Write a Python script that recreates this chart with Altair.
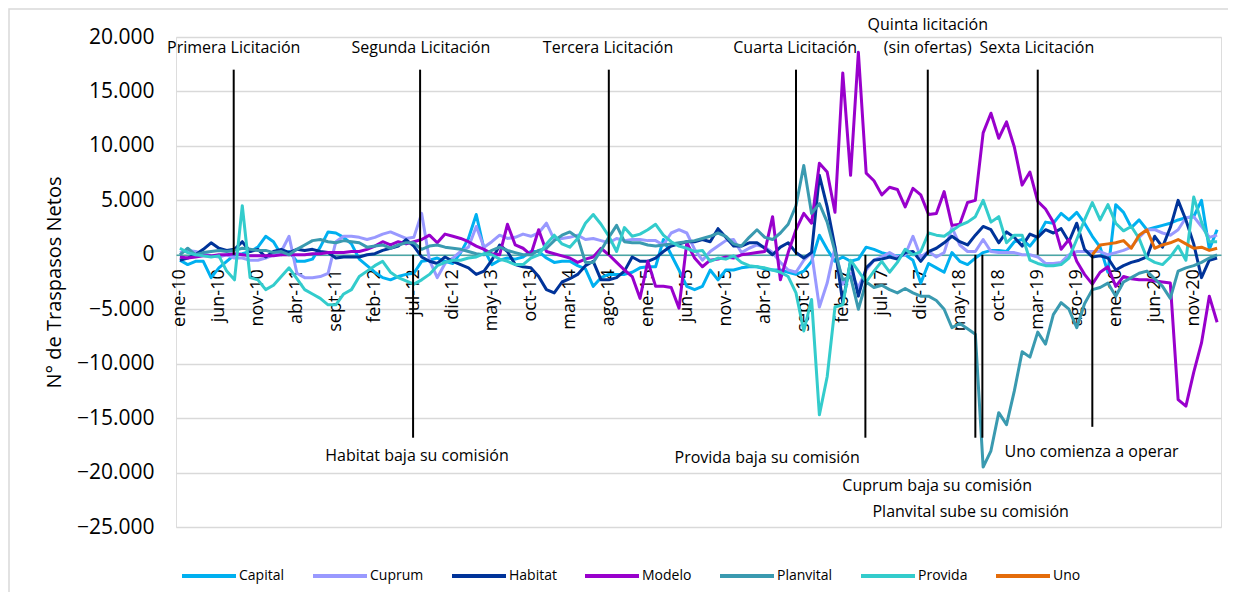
import altair as alt
import pandas as pd

# ---------------- data ----------------
series_names = ["Capital", "Cuprum", "Habitat", "Modelo", "Planvital", "Provida", "Uno"]
series_colors = ["#00B0F0", "#9999FF", "#003399", "#9900CC", "#3A9AB0", "#33CCCC", "#E46C0A"]

tick_idx = list(range(0, 134, 5))
tick_labels = ["ene-10", "jun-10", "nov-10", "abr-11", "sept-11", "feb-12", "jul-12", "dic-12",
               "may-13", "oct-13", "mar-14", "ago-14", "ene-15", "jun-15", "nov-15", "abr-16",
               "sept-16", "feb-17", "jul-17", "dic-17", "may-18", "oct-18", "mar-19", "ago-19",
               "ene-20", "jun-20", "nov-20"]

capital = [-500, -900, -600, -600, -2100, -1200, -600, 0, 100, 300,
           700, 1700, 1200, 0, 300, -600, -600, -400, 700, 2100,
           2000, 1600, 1000, -400, -1000, -1600, -2100, -2300, -2000, -1800,
           -1700, -600, -500, -300, -600, -800, 200, 1500, 3700, 500,
           -900, -500, -300, -400, -200, 300, 300, -300, -700, -600,
           -600, -1000, -1300, -2900, -2100, -1800, -1800, -1800, -1600, -1200,
           -1100, -1100, 1400, 0, -1400, -2900, -3200, -2900, -1400, -2300,
           -1400, -1400, -1200, -1100, -1100, -1300, -1400, -1400, -1600, -1800,
           -1500, -600, 1800, 500, -600, -200, -600, -400, 700, 500,
           200, 0, -100, 0, -500, -2600, -800, -1200, -1600, 200,
           -600, -900, -300, 200, 400, 400, 300, 1200, 1400, 800,
           1700, 3000, 2900, 3800, 3200, 3900, 2900, 1700, 700, -1600,
           4600, 3900, 2500, 3200, 2300, 2500, 2700, 2900, 3200, 3400,
           3500, 5000, 500, 2300]

cuprum = [200, 400, 300, 100, -100, -200, 0, -300, -300, -500,
          -500, -300, 0, 300, 1700, -1700, -2100, -2100, -2000, -1700,
          1200, 1700, 1700, 1600, 1400, 1600, 1900, 2100, 1800, 1500,
          1600, 3800, -500, -2100, -800, -300, 300, 700, 2600, 700,
          1200, 1800, 1500, 1600, 1900, 1700, 2000, 2900, 1400, 1500,
          1600, 1800, 1400, 1500, 1300, 1100, 1500, 1300, 1400, 1400,
          1300, 1300, 900, 2000, 2300, 2000, 500, -500, 300, 800,
          1300, 1400, 200, 600, 900, 700, 200, -700, -1400, -1600,
          -500, 200, -4800, -2600, 700, -2700, -1700, -3000, -1400, -500,
          -200, 200, -200, 0, 1700, -200, 300, -200, 200, 2500,
          900, 300, 300, 1400, 300, 200, 200, 200, 0, 0,
          -200, -800, -800, -700, 0, 300, 300, 300, 300, 0,
          200, 400, 700, 1600, 2300, 2300, 2000, 1800, 2300, 3400,
          3500, 2600, 1600, 1800]

habitat = [-500, -300, 0, 500, 1100, 600, 400, 500, 1200, 300,
           500, -200, 300, 500, 200, 500, 400, 500, 300, 200,
           -300, -200, -200, -200, 0, 100, 400, 600, 800, 1400,
           800, -200, -600, -800, -200, -600, -900, -1200, -1800, -1500,
           -500, 900, 300, -900, -1100, -1200, -2000, -3200, -3500, -2500,
           -2200, -1800, -1000, -600, -2300, -2300, -2100, -1500, -200, -600,
           -600, -300, 300, 800, 1000, 1200, 1200, 1400, 1200, 2400,
           1600, 800, 800, 1100, 1100, 600, 0, 700, 1100, 200,
           -300, 200, 7300, 4400, 700, -4400, -600, -3800, -1200, -500,
           -400, -200, -400, 200, 300, -600, 300, 600, 1100, 1700,
           1200, 900, 1800, 2600, 2300, 1100, 2100, 1600, 800, 1900,
           1600, 2300, 2000, 2400, 1200, 2900, 500, -200, -100, -300,
           -1400, -1000, -700, -500, -200, 1700, 700, 2500, 5000, 3200,
           1000, -2100, -500, -300]

modelo = [-200, -300, -200, -100, -100, 0, 0, 100, 0, -100,
          -100, -100, -100, 0, 0, 0, 0, 100, 100, 200,
          200, 200, 300, 300, 500, 800, 1200, 900, 1200, 1000,
          1200, 1400, 1800, 1100, 1900, 1700, 1500, 1200, 800, 500,
          100, 0, 2800, 900, 600, 0, 2300, 300, 100, -100,
          -300, -700, -400, -200, 600, 0, -700, -1400, -2000, -4000,
          -600, -2900, -2900, -3000, -4900, 1100, -300, -1100, -500, -400,
          -200, -300, 0, 100, 200, 300, 3500, -2300, 200, 2300,
          3800, 2900, 8400, 7600, 3900, 16700, 7300, 18600, 7500, 6800,
          5500, 6200, 6000, 4400, 6100, 5500, 3700, 3800, 5800, 2700,
          2800, 4800, 5000, 11200, 13000, 10700, 12200, 9900, 6400, 7600,
          4900, 4200, 3000, 500, 1400, -600, -1800, -2700, -1600, -1100,
          -2900, -2000, -2200, -2300, -2300, -2400, -2500, -2600, -13300, -13900,
          -10800, -8100, -3800, -6200]

planvital = [0, 600, 0, 200, 300, 400, 300, 400, 600, 500,
             400, 400, 200, 300, 0, 500, 900, 1300, 1400, 1200,
             1100, 1300, 1200, 1100, 700, 800, 900, 600, 900, 1100,
             1100, 500, 800, 900, 700, 600, 500, 300, 100, 0,
             400, 700, 400, 200, 0, 0, 400, 600, 1300, 1800,
             2100, 1600, -700, -700, 400, 1600, 2700, 1200, 1100, 1100,
             900, 800, 900, 1000, 1100, 1200, 1300, 1500, 1700, 2000,
             1700, 1000, 800, 1600, 2300, 1600, 1400, 2000, 2800, 4500,
             8200, 3800, 4700, 3000, 300, -2300, -2000, -5000, -2500, -3000,
             -2800, -3200, -3500, -3100, -3500, -3800, -3800, -4200, -5000, -6700,
             -6300, -6800, -7300, -19500, -18000, -14500, -15600, -12500, -8900, -9400,
             -7100, -8200, -5500, -4400, -5000, -6700, -4500, -3200, -3000, -2600,
             -3800, -2500, -2100, -1700, -1500, -2200, -2900, -4000, -1500, -1200,
             -1000, -700, -300, 0]

provida = [600, 200, 0, -100, -200, -100, -1500, -2300, 4500, -2100,
           -2300, -3200, -2800, -2000, -1200, -2200, -3200, -3600, -4000, -4600,
           -4600, -3600, -3200, -2000, -1500, -1000, -600, -1600, -2100, -2400,
           -2700, -2300, -1800, -1000, -700, -500, -500, -300, -200, 100,
           0, -400, -600, -900, -900, -300, 0, 1000, 1800, 1000,
           700, 1500, 2900, 3700, 2800, 1700, 300, 2500, 1700, 1900,
           2300, 2800, 1800, 1200, 800, 600, 300, 400, -600, -300,
           -400, -100, -700, -1000, -1100, -1200, -1400, -1600, -2000, -3500,
           -7000, -4100, -14700, -11200, -4800, -4600, -500, -1500, -2500, -1500,
           -600, -1600, -700, 500, 0, 300, 2000, 1800, 1700, 2200,
           2700, 3000, 3500, 5000, 3000, 3500, 1100, 1800, 1800, -500,
           -800, -1000, -1000, -900, -300, 1400, 3200, 4800, 3200, 4600,
           2900, 2200, 2600, 1500, -300, -700, -900, -200, 800, -500,
           5300, 3000, 1200, 1200]

uno_start = 117
uno = [0, 900, 1000, 1100, 1300, 600, 1800, 2300, 600, 900,
       1100, 1400, 1000, 600, 700, 400, 600]

# vertical event lines (month index, top value, bottom value)
ev_x = [6.9, 30.8, 55.0, 79.0, 95.9, 110.0, 29.9, 87.9, 102.0, 102.9, 117.0]
ev_y1 = [17000, 17000, 17000, 17000, 17000, 17000, 0, 0, 0, 0, 0]
ev_y2 = [0, 0, 0, 0, 0, 0, -16800, -16800, -16800, -16800, -15800]

# annotation texts (month index, value)
ann_text = ["Primera Licitación", "Segunda Licitación", "Tercera Licitación", "Cuarta Licitación",
            "Quinta licitación", "(sin ofertas)", "Sexta Licitación",
            "Habitat baja su comisión", "Provida baja su comisión", "Cuprum baja su comisión",
            "Planvital sube su comisión", "Uno comienza a operar"]
ann_x = [6.9, 30.9, 54.9, 78.9, 95.9, 95.9, 109.9, 30.4, 75.3, 97.1, 101.4, 116.9]
ann_y = [19000, 19000, 19000, 19000, 21100, 19000, 19000, -18500, -18700, -21250, -23650, -18150]

# ---------------- tables ----------------
rows = []
all_series = [capital, cuprum, habitat, modelo, planvital, provida]
for name, vals in zip(series_names[:6], all_series):
    for i, v in enumerate(vals):
        rows.append({"idx": i, "serie": name, "value": v})
for k, v in enumerate(uno):
    rows.append({"idx": uno_start + k, "serie": "Uno", "value": v})
df = pd.DataFrame(rows)

ev_df = pd.DataFrame({"x": ev_x, "y1": ev_y1, "y2": ev_y2})
ann_df = pd.DataFrame({"x": ann_x, "y": ann_y, "label": ann_text})

FONT = "Open Sans"
W, H = 1045, 490
y_dom = [-25000, 20000]
x_offset = -(H * (0 - y_dom[0]) / (y_dom[1] - y_dom[0]))

x_label_expr = "[" + ",".join("'%s'" % t for t in tick_labels) + "][round(datum.value / 5)]"
x_scale = alt.Scale(domain=[-0.5, 133.5], nice=False, zero=False)
y_scale = alt.Scale(domain=y_dom, nice=False, zero=False)

x_axis = alt.Axis(values=tick_idx, labelExpr=x_label_expr, labelAngle=270, labelAlign="right",
                  labelBaseline="middle", labelPadding=14, ticks=False, grid=False,
                  domainColor="#4AA6A6", domainWidth=1.5, offset=x_offset, title=None,
                  labelFontSize=18, labelFont=FONT, labelColor="#000000",
                  labelOverlap=False, labelFlush=False)
y_axis = alt.Axis(values=list(range(-25000, 20001, 5000)),
                  labelExpr="replace(format(datum.value, ','), ',', '.')",
                  title="N° de Traspasos Netos", grid=True, gridColor="#D9D9D9", gridWidth=1.3,
                  domain=False, ticks=False, labelPadding=22, labelFontSize=21, labelFont=FONT,
                  labelColor="#000000", titleFont=FONT, titleFontSize=20, titleFontWeight="normal",
                  titleColor="#000000", titlePadding=12, labelFlush=False, labelOverlap=False)

lines = alt.Chart(df).mark_line(strokeWidth=3, strokeJoin="round").encode(
    x=alt.X("idx:Q", scale=x_scale, axis=x_axis),
    y=alt.Y("value:Q", scale=y_scale, axis=y_axis),
    color=alt.Color("serie:N", scale=alt.Scale(domain=series_names, range=series_colors),
                    legend=alt.Legend(orient="none", legendX=4, legendY=510, direction="horizontal",
                                      columns=7, gridAlign="each", title=None, symbolType="stroke",
                                      symbolSize=2916, symbolStrokeWidth=4, labelFont=FONT,
                                      labelFontSize=14, labelColor="#000000", labelOffset=1,
                                      columnPadding=20)),
)

rules = alt.Chart(ev_df).mark_rule(color="#000000", strokeWidth=2).encode(
    x=alt.X("x:Q", scale=x_scale, axis=x_axis),
    y=alt.Y("y1:Q", scale=y_scale, axis=y_axis),
    y2="y2:Q",
)

texts = alt.Chart(ann_df).mark_text(font=FONT, fontSize=16, color="#000000",
                                    align="center", baseline="middle").encode(
    x=alt.X("x:Q", scale=x_scale, axis=x_axis),
    y=alt.Y("y:Q", scale=y_scale, axis=y_axis),
    text="label:N",
)

border = alt.Chart(alt.Data(values=[{"k": 1}])).mark_rect(fill=None, stroke="#D9D9D9", strokeWidth=1.5).encode(
    x=alt.value(-167), x2=alt.value(1070), y=alt.value(-28), y2=alt.value(580)
)

chart = alt.layer(border, lines, rules, texts).properties(
    width=W, height=H,
    autosize=alt.AutoSizeParams(type="none"),
    padding={"left": 168, "top": 29, "right": 7, "bottom": 65},
).configure_view(stroke=None).configure(background="white")

chart.save("out.html", embed_options={"renderer": "svg", "actions": False})
